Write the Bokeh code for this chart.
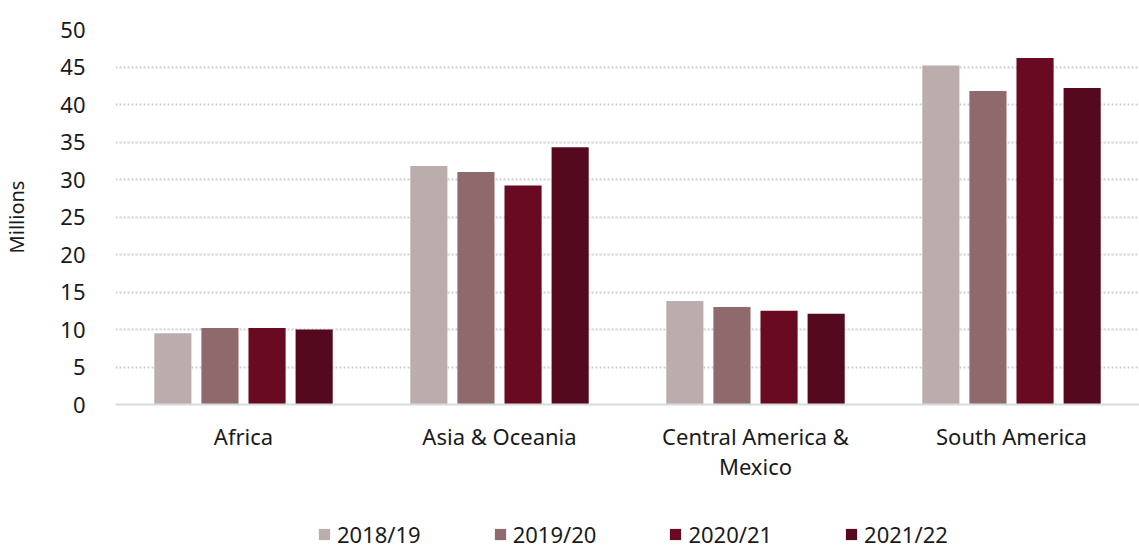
from bokeh.plotting import figure
from bokeh.layouts import column
from bokeh.models import ColumnDataSource, Legend, LegendItem, FactorRange, SingleIntervalTicker
from bokeh.transform import dodge
from bokeh.embed import file_html
from bokeh.resources import INLINE

regions = ["Africa", "Asia & Oceania", "Central America &\nMexico", "South America"]
seasons = ["2018/19", "2019/20", "2020/21", "2021/22"]
v2018 = [9.5, 31.8, 13.8, 45.2]
v2019 = [10.2, 31.0, 13.0, 41.8]
v2020 = [10.2, 29.2, 12.5, 46.2]
v2021 = [10.0, 34.3, 12.1, 42.2]
colors = ["#BCADAD", "#8E6A6D", "#6A0A22", "#55091E"]

src = ColumnDataSource(dict(region=regions, a=v2018, b=v2019, c=v2020, d=v2021))

FONT = "Noto Sans"
TXT = "#1a1a1a"
p = figure(x_range=FactorRange(*regions, range_padding=0), y_range=(0, 50),
           width=1139, height=513, output_backend="svg", toolbar_location=None,
           min_border_left=115, min_border_right=0, min_border_top=29, min_border_bottom=109)
p.outline_line_color = None

offsets = [-0.276, -0.092, 0.092, 0.276]
for col, off, c in zip(["a", "b", "c", "d"], offsets, colors):
    p.vbar(x=dodge("region", off, range=p.x_range), top=col, width=0.145,
           source=src, fill_color=c, line_color=None)

p.yaxis.ticker = SingleIntervalTicker(interval=5)
p.yaxis.axis_line_color = None
p.yaxis.major_tick_line_color = None
p.yaxis.minor_tick_line_color = None
p.yaxis.major_label_text_font = FONT
p.yaxis.major_label_text_font_size = "22px"
p.yaxis.major_label_text_color = TXT
p.yaxis.major_label_standoff = 24
p.yaxis.axis_label = "Millions"
p.yaxis.axis_label_text_font = FONT
p.yaxis.axis_label_text_font_style = "normal"
p.yaxis.axis_label_text_font_size = "20px"
p.yaxis.axis_label_text_color = TXT
p.yaxis.axis_label_standoff = 27

p.xaxis.axis_line_color = "#d9d9d9"
p.xaxis.axis_line_width = 2
p.xaxis.major_tick_line_color = None
p.xaxis.minor_tick_line_color = None
p.xaxis.major_label_text_font = FONT
p.xaxis.major_label_text_font_size = "22px"
p.xaxis.major_label_text_color = TXT
p.xaxis.major_label_text_line_height = 1.0
p.xaxis.major_label_standoff = 10

p.xgrid.grid_line_color = None
p.ygrid.grid_line_color = "#cfcfcf"
p.ygrid.grid_line_width = 2
p.ygrid.grid_line_dash = "2 2"

# legend strip (zero-height proxy bars, one per season, only used for legend swatches)
p2 = figure(width=1139, height=36, x_range=(0, 1), y_range=(0, 1), output_backend="svg",
            toolbar_location=None, min_border=0, min_border_left=0, min_border_right=0,
            min_border_top=0, min_border_bottom=0)
p2.outline_line_color = None
p2.axis.visible = False
p2.grid.visible = False
items = []
for s, c in zip(seasons, colors):
    proxy = ColumnDataSource(dict(x=[0.5], top=[0.0], bottom=[0.0]))
    r = p2.vbar(x="x", top="top", bottom="bottom", width=0.0, source=proxy,
                fill_color=c, line_color=None)
    items.append(LegendItem(label=s, renderers=[r]))
legend = Legend(items=items, orientation="horizontal", location=(202, 0),
                glyph_width=14, glyph_height=14, label_standoff=6, spacing=72,
                padding=0, margin=0, border_line_color=None, background_fill_alpha=0,
                label_text_font=FONT, label_text_font_size="22px", label_text_color=TXT)
p2.add_layout(legend, "center")

layout = column(p, p2, spacing=0)
open("out.html", "w").write(file_html(layout, INLINE))
